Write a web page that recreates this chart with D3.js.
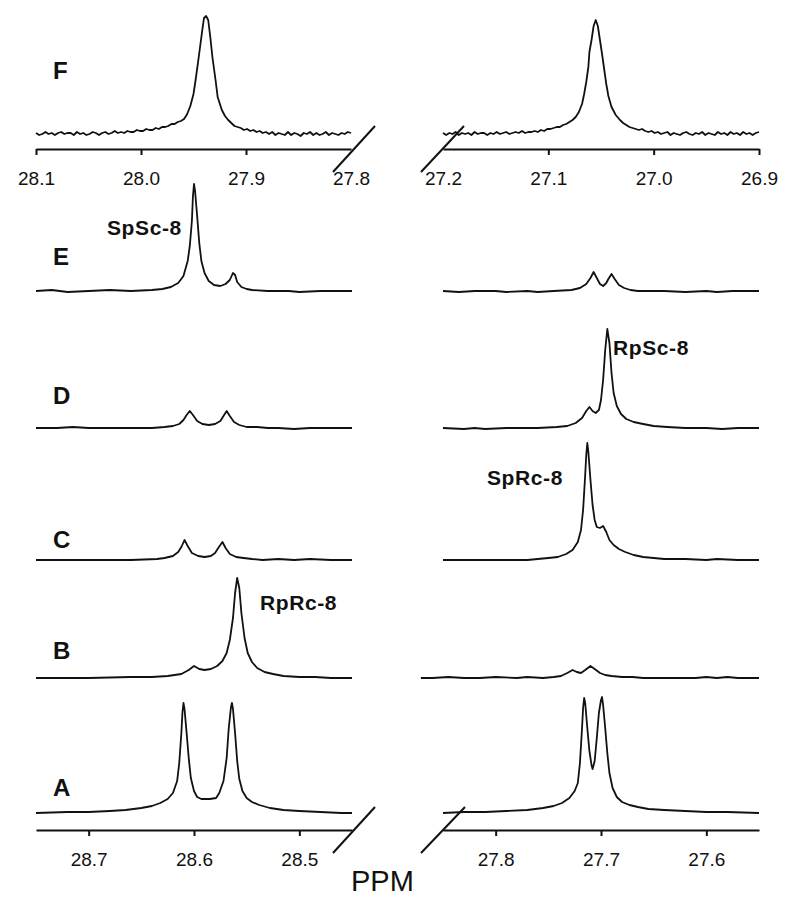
<!DOCTYPE html>
<html lang="en">
<head>
    <meta charset="UTF-8">
    <title>31P NMR stack</title>
    <style>
        body {
            margin: 0;
            background-color: #ffffff;
        }
        svg {
            display: block;
            font-family: Arial, "Liberation Sans", sans-serif;
        }
        .trace {
            fill: none;
            stroke: #111;
            stroke-width: 1.8px;
            stroke-linejoin: round;
        }
        .axis path,
        .axis line {
            fill: none;
            stroke: #111;
            stroke-width: 2px;
        }
        .axis text {
            font-size: 19px;
            fill: #111;
        }
    </style>
</head>
<body>
<script src="https://cdnjs.cloudflare.com/ajax/libs/d3/7.8.5/d3.min.js"></script>
<script>
    // ---- data: [ppm, intensity] ----
    var rowNames = ["F", "E", "D", "C", "B", "A"];

    var ticksTopLeft = [28.1, 28.0, 27.9, 27.8];
    var ticksTopRight = [27.2, 27.1, 27.0, 26.9];
    var ticksBottomLeft = [28.7, 28.6, 28.5];
    var ticksBottomRight = [27.8, 27.7, 27.6];

    var peakLabels = ["SpSc-8", "RpSc-8", "SpRc-8", "RpRc-8"];

    var F_left = [[28.100,1],[28.097,-1],[28.094,0],[28.091,2],[28.088,0],[28.085,1],[28.082,-1],[28.079,1],[28.076,2],
        [28.073,0],[28.070,1],[28.067,1],[28.064,-1],[28.061,2],[28.058,0],[28.055,1],[28.052,-1],[28.049,0],[28.046,2],
        [28.043,1],[28.040,-1],[28.037,1],[28.034,2],[28.031,0],[28.028,1],[28.025,3],[28.022,1],[28.019,2],[28.016,1],
        [28.013,3],[28.010,2],[28.007,2],[28.004,4],[28.001,3],[27.998,3],[27.995,5],[27.992,4],[27.989,4],[27.986,6],
        [27.983,5],[27.980,7],[27.977,7],[27.974,8],[27.971,10],[27.968,10],[27.965,12],[27.962,13],[27.959,15],
        [27.956,20],[27.953,28],[27.950,40],[27.948,54],[27.945,77],[27.942,101],[27.940,116],[27.938,118],[27.936,114],
        [27.934,97],[27.932,77],[27.929,54],[27.927,37],[27.923,24],[27.920,18],[27.917,14],[27.914,11],[27.911,8],
        [27.908,7],[27.905,6],[27.902,4],[27.899,5],[27.896,3],[27.893,4],[27.890,2],[27.887,3],[27.884,1],[27.881,2],
        [27.878,0],[27.875,2],[27.872,-1],[27.869,1],[27.866,0],[27.863,-1],[27.860,2],[27.857,-1],[27.854,1],[27.851,0],
        [27.848,-2],[27.845,1],[27.842,0],[27.839,2],[27.836,-1],[27.833,1],[27.830,-1],[27.827,0],[27.824,2],[27.821,-1],
        [27.818,1],[27.815,0],[27.812,-1],[27.809,1],[27.806,0],[27.803,2],[27.800,1]];

    var F_right = [[27.200,1],[27.197,-1],[27.194,1],[27.191,0],[27.188,2],[27.185,-1],[27.182,1],[27.179,0],[27.176,1],
        [27.173,-1],[27.170,2],[27.167,0],[27.164,1],[27.161,1],[27.158,-1],[27.155,1],[27.152,0],[27.149,2],[27.146,0],
        [27.143,1],[27.140,2],[27.137,0],[27.134,1],[27.131,2],[27.128,1],[27.125,3],[27.122,1],[27.119,2],[27.116,2],
        [27.113,3],[27.110,2],[27.107,4],[27.104,3],[27.101,5],[27.098,5],[27.095,6],[27.092,7],[27.089,7],[27.086,9],
        [27.083,10],[27.080,12],[27.077,14],[27.074,17],[27.071,22],[27.068,30],[27.066,40],[27.064,52],[27.062,67],
        [27.061,82],[27.059,94],[27.057,108],[27.055,114],[27.053,108],[27.051,94],[27.049,80],[27.047,65],[27.045,50],
        [27.043,38],[27.040,27],[27.036,19],[27.032,14],[27.029,11],[27.026,9],[27.023,7],[27.020,6],[27.017,5],
        [27.014,4],[27.011,5],[27.008,3],[27.005,2],[27.002,3],[26.999,1],[26.996,2],[26.993,0],[26.990,1],[26.987,2],
        [26.984,-1],[26.981,1],[26.978,0],[26.975,-1],[26.972,1],[26.969,2],[26.966,0],[26.963,-1],[26.960,1],[26.957,0],
        [26.954,2],[26.951,-1],[26.948,1],[26.945,0],[26.942,-1],[26.939,2],[26.936,0],[26.933,1],[26.930,-1],[26.927,2],
        [26.924,0],[26.921,1],[26.918,-1],[26.915,2],[26.912,0],[26.909,1],[26.906,-1],[26.903,1],[26.900,2]];

    var E_left = [[28.750,0],[28.735,1],[28.720,-1],[28.700,0],[28.680,1],[28.660,0],[28.640,1],[28.630,2],[28.622,4],
        [28.615,8],[28.610,15],[28.606,30],[28.604,45],[28.602,70],[28.601,95],[28.600,107],[28.599,100],[28.597,75],
        [28.595,48],[28.593,30],[28.590,18],[28.586,10],[28.581,6],[28.575,5],[28.570,7],[28.566,11],[28.563,18],
        [28.561,16],[28.559,9],[28.555,4],[28.550,2],[28.545,1],[28.530,0],[28.510,0],[28.500,-1],[28.480,0],[28.450,0]];

    var E_right = [[27.850,0],[27.835,-1],[27.820,0],[27.800,0],[27.790,-1],[27.770,0],[27.760,-1],[27.745,0],[27.728,1],
        [27.720,3],[27.714,7],[27.710,13],[27.707,19],[27.704,13],[27.701,7],[27.698,5],[27.695,8],[27.693,12],
        [27.690,17],[27.687,12],[27.683,6],[27.678,3],[27.672,1],[27.665,0],[27.640,0],[27.620,-1],[27.600,0],
        [27.590,-1],[27.575,0],[27.550,0]];

    var D_left = [[28.750,0],[28.730,0],[28.715,1],[28.700,0],[28.680,0],[28.640,0],[28.628,1],[28.620,2],[28.614,4],
        [28.610,8],[28.607,13],[28.604,17],[28.601,13],[28.597,7],[28.592,4],[28.586,3],[28.580,4],[28.575,7],
        [28.572,12],[28.569,17],[28.566,12],[28.562,6],[28.557,3],[28.550,1],[28.540,1],[28.530,0],[28.520,0],
        [28.505,-1],[28.490,0],[28.450,0]];

    var D_right = [[27.850,0],[27.830,-1],[27.820,0],[27.810,-1],[27.790,0],[27.760,0],[27.742,1],[27.732,2],[27.724,5],
        [27.718,10],[27.714,17],[27.711,21],[27.708,17],[27.705,15],[27.702,18],[27.700,28],[27.698,48],[27.696,78],
        [27.694,99],[27.692,85],[27.690,55],[27.688,35],[27.685,22],[27.681,14],[27.676,9],[27.669,6],[27.660,4],
        [27.650,2],[27.637,1],[27.620,0],[27.600,0],[27.585,-1],[27.570,0],[27.550,0]];

    var C_left = [[28.750,0],[28.700,0],[28.660,0],[28.635,1],[28.628,2],[28.620,4],[28.615,8],[28.612,13],[28.609,20],
        [28.606,14],[28.602,7],[28.596,4],[28.590,3],[28.584,4],[28.580,7],[28.577,12],[28.573,18],[28.570,12],
        [28.566,6],[28.560,3],[28.553,2],[28.545,1],[28.535,0],[28.520,1],[28.505,0],[28.490,1],[28.470,0],[28.450,0]];

    var C_right = [[27.850,0],[27.820,0],[27.790,0],[27.770,0],[27.760,1],[27.750,2],[27.741,3],[27.733,6],[27.727,10],
        [27.722,18],[27.719,30],[27.717,50],[27.715,85],[27.714,105],[27.713,117],[27.712,108],[27.710,80],[27.708,55],
        [27.706,40],[27.704,33],[27.701,32],[27.698,34],[27.695,28],[27.692,20],[27.688,15],[27.683,11],[27.677,8],
        [27.669,5],[27.660,3],[27.650,2],[27.640,1],[27.620,1],[27.600,0],[27.590,1],[27.570,0],[27.550,0]];

    var B_left = [[28.750,0],[28.700,0],[28.660,1],[28.640,1],[28.625,2],[28.612,4],[28.605,8],[28.600,12],[28.595,9],
        [28.590,8],[28.584,9],[28.578,12],[28.573,17],[28.569,25],[28.566,38],[28.563,60],[28.561,85],[28.559,100],
        [28.557,90],[28.555,65],[28.552,40],[28.549,25],[28.545,16],[28.540,10],[28.533,6],[28.525,4],[28.515,2],
        [28.500,1],[28.485,1],[28.470,0],[28.450,0]];

    var B_right = [[27.871,0],[27.860,0],[27.845,1],[27.830,0],[27.815,0],[27.800,1],[27.780,0],[27.770,1],[27.755,0],
        [27.745,1],[27.738,2],[27.732,5],[27.727,8],[27.723,6],[27.719,5],[27.715,8],[27.710,12],[27.706,9],[27.701,5],
        [27.696,3],[27.690,2],[27.680,1],[27.670,1],[27.660,0],[27.640,0],[27.610,0],[27.600,1],[27.590,0],[27.580,1],
        [27.570,0],[27.550,0]];

    var A_left = [[28.750,0],[28.720,1],[28.700,1],[28.680,2],[28.665,3],[28.650,5],[28.640,7],[28.632,10],[28.625,14],
        [28.620,20],[28.616,32],[28.614,50],[28.612,80],[28.611,100],[28.610,110],[28.609,104],[28.607,80],[28.605,55],
        [28.603,35],[28.600,22],[28.597,16],[28.593,14],[28.585,14],[28.579,15],[28.576,20],[28.572,32],[28.569,55],
        [28.567,85],[28.565,105],[28.564,110],[28.563,104],[28.561,80],[28.559,52],[28.557,34],[28.554,22],[28.550,15],
        [28.545,11],[28.538,8],[28.528,5],[28.515,3],[28.500,2],[28.480,1],[28.460,0],[28.450,0]];

    var A_right = [[27.850,0],[27.830,1],[27.810,1],[27.790,2],[27.770,3],[27.755,5],[27.745,7],[27.737,10],[27.730,15],
        [27.725,22],[27.722,30],[27.720,50],[27.718,85],[27.717,105],[27.716,115],[27.715,110],[27.713,85],[27.711,62],
        [27.709,48],[27.708,44],[27.706,52],[27.704,75],[27.702,100],[27.700,113],[27.699,116],[27.698,108],[27.696,85],
        [27.694,60],[27.692,40],[27.689,25],[27.685,16],[27.680,11],[27.673,8],[27.665,6],[27.655,4],[27.640,3],
        [27.620,2],[27.600,1],[27.580,1],[27.550,0]];

    // ---- layout ----
    var width = 800, height = 902;

    var svg = d3.select("body").append("svg")
        .attr("width", width)
        .attr("height", height);

    svg.append("rect").attr("width", width).attr("height", height).attr("fill", "#fff");

    // two halves, each with its own ppm window
    var xTopLeft = d3.scaleLinear().domain([28.1, 27.8]).range([36, 351]);
    var xTopRight = d3.scaleLinear().domain([27.2, 26.9]).range([443, 759]);
    var xBotLeft = d3.scaleLinear().domain([28.75, 28.45]).range([36, 352]);
    var xBotRight = d3.scaleLinear().domain([27.85, 27.55]).range([443, 759]);

    // one intensity unit ~ one pixel, same for every row
    var y = d3.scaleLinear().domain([0, 120]).range([0, -120]);

    var rows = [
        {name: "F", base: 134, left: F_left, right: F_right, xl: xTopLeft, xr: xTopRight, labelY: 79},
        {name: "E", base: 291, left: E_left, right: E_right, xl: xBotLeft, xr: xBotRight, labelY: 265},
        {name: "D", base: 428, left: D_left, right: D_right, xl: xBotLeft, xr: xBotRight, labelY: 404},
        {name: "C", base: 560, left: C_left, right: C_right, xl: xBotLeft, xr: xBotRight, labelY: 548},
        {name: "B", base: 678, left: B_left, right: B_right, xl: xBotLeft, xr: xBotRight, labelY: 659},
        {name: "A", base: 813, left: A_left, right: A_right, xl: xBotLeft, xr: xBotRight, labelY: 796}
    ];

    rows.forEach(function(r, i) {
        var g = svg.append("g").attr("transform", "translate(0," + r.base + ")");

        [[r.left, r.xl], [r.right, r.xr]].forEach(function(pair) {
            var xs = pair[1];
            var line = d3.line()
                .x(function(d) { return xs(d[0]); })
                .y(function(d) { return y(d[1]); });
            g.append("path")
                .datum(pair[0])
                .attr("class", "trace")
                .attr("d", line);
        });

        svg.append("text")
            .attr("x", 53)
            .attr("y", r.labelY)
            .attr("font-size", 24)
            .attr("font-weight", "bold")
            .attr("fill", "#111")
            .text(rowNames[i]);
    });

    // compound labels next to their peaks
    var labelPos = [[107, 235], [613, 355], [487, 485], [260, 610]];
    peakLabels.forEach(function(t, i) {
        svg.append("text")
            .attr("x", labelPos[i][0])
            .attr("y", labelPos[i][1])
            .attr("font-size", 21)
            .attr("font-weight", "bold")
            .attr("letter-spacing", "0.6px")
            .attr("fill", "#111")
            .text(t);
    });

    // ---- axes ----
    function drawAxis(scale, ticks, yPos, hideTick) {
        var ax = d3.axisBottom(scale)
            .tickValues(ticks)
            .tickSize(6)
            .tickSizeOuter(0)
            .tickPadding(17)
            .tickFormat(d3.format(".1f"));
        var g = svg.append("g")
            .attr("class", "axis")
            .attr("transform", "translate(0," + yPos + ")")
            .call(ax);
        g.attr("font-family", null).attr("font-size", null);
        if (hideTick !== undefined) {
            g.selectAll(".tick").filter(function(d) { return d === hideTick; })
                .select("line").remove();
        }
        return g;
    }

    drawAxis(xTopLeft, ticksTopLeft, 149, 27.8);
    drawAxis(xTopRight, ticksTopRight, 149, 27.2);
    drawAxis(xBotLeft, ticksBottomLeft, 830);
    drawAxis(xBotRight, ticksBottomRight, 830);

    // broken-axis slashes
    function slash(x0, yAx, dxA, dxB) {
        svg.append("line")
            .attr("x1", x0 + dxA).attr("y1", yAx + 23)
            .attr("x2", x0 + dxB).attr("y2", yAx - 23)
            .attr("stroke", "#111")
            .attr("stroke-width", 2);
    }
    slash(xTopLeft(27.8), 149, -18, 24);
    slash(xTopRight(27.2), 149, -22, 21);
    slash(xBotLeft(28.45), 830, -19, 23);
    slash(xBotRight(27.85), 830, -22, 22);

    svg.append("text")
        .attr("x", 351)
        .attr("y", 891)
        .attr("font-size", 29)
        .attr("fill", "#111")
        .text("PPM");
</script>
</body>
</html>
